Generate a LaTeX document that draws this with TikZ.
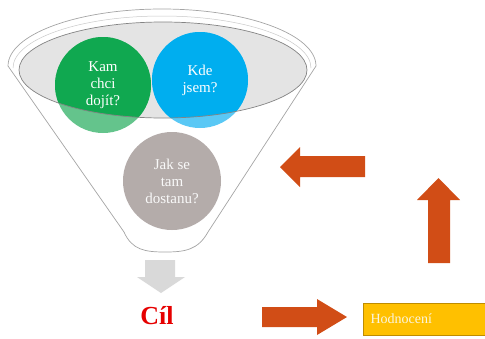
\documentclass[tikz,border=0pt]{standalone}
\usepackage{fontspec}
\setmainfont{Liberation Serif}
\definecolor{cgreen}{RGB}{16,168,80}
\definecolor{cgreenl}{RGB}{100,196,140}
\definecolor{cblue}{RGB}{0,174,239}
\definecolor{cbluel}{RGB}{90,200,245}
\definecolor{cgray}{RGB}{180,172,170}
\definecolor{corange}{RGB}{209,77,22}
\definecolor{cgold}{RGB}{255,192,0}
\definecolor{cgoldd}{RGB}{190,140,0}
\definecolor{ctext}{RGB}{250,245,225}
\definecolor{cred}{RGB}{230,0,0}
\definecolor{cfun}{RGB}{165,165,165}
\definecolor{cell}{RGB}{228,228,228}
\definecolor{carrg}{RGB}{217,217,217}
\begin{document}
\begin{tikzpicture}[x=1pt,y=-1pt,
  bubble/.style={circle,inner sep=0pt,minimum size=96pt},
  btext/.style={align=center,text=white,font=\fontsize{15}{17}\selectfont},
  bigarrow/.style={fill=corange}]
\useasboundingbox (0,0) rectangle (485,338);
% funnel body
\draw[cfun,fill=white,line width=0.7pt]
  (8,66) arc[start angle=180,end angle=0,x radius=154pt,y radius=57pt]
  -- (208,232) .. controls (198,250) and (185,252) .. (165,252)
  .. controls (145,252) and (132,250) .. (124,232) -- cycle;
\draw[cfun!60,line width=0.5pt]
  (13,68) arc[start angle=180,end angle=0,x radius=149pt,y radius=52pt];
% inner ellipse
\fill[cell] (163,70) ellipse[x radius=144pt,y radius=48pt];
% circles (lighter outside the ellipse)
\node[bubble,fill=cgreenl] (kam) at (103,85) {};
\node[bubble,fill=cbluel] (kde) at (200,80) {};
\node[bubble,fill=cgray,minimum size=98pt] (jak) at (172,181) {};
\begin{scope}
  \clip (163,70) ellipse[x radius=144pt,y radius=48pt];
  \fill[cgreen] (kam.center) circle[radius=48pt];
  \fill[cblue] (kde.center) circle[radius=48pt];
\end{scope}
\draw[cfun!80!black,line width=0.7pt] (163,70) ellipse[x radius=144pt,y radius=48pt];
\node[btext] at (kam.center) {Kam\\chci\\dojít?};
\node[btext] at (kde.center) {Kde\\jsem?};
\node[btext,text=white!95!gray] at (jak.center) {Jak se\\tam\\dostanu?};
% gray down arrow
\fill[carrg] (145,260) -- (175,260) -- (175,277) -- (185,277) -- (161,293) -- (137,277) -- (145,277) -- cycle;
% goal
\node[text=cred,font=\fontsize{26}{30}\selectfont\bfseries] (cil) at (157,316) {Cíl};
% orange arrows
\fill[bigarrow] (262,307) -- (317,307) -- (317,299) -- (347,317) -- (317,335) -- (317,327) -- (262,327) -- cycle;
\fill[bigarrow] (428,263) -- (428,200) -- (417,200) -- (438.5,178) -- (460,200) -- (450,200) -- (450,263) -- cycle;
\fill[bigarrow] (365,156) -- (300,156) -- (300,147) -- (280,167) -- (300,187) -- (300,177) -- (365,177) -- cycle;
% evaluation box
\draw[fill=cgold,draw=cgoldd,line width=0.8pt] (363,303) rectangle (492,335);
\node[anchor=west,text=ctext,font=\fontsize{14}{17}\selectfont] (hod) at (367,319) {Hodnocení};
\end{tikzpicture}
\end{document}
